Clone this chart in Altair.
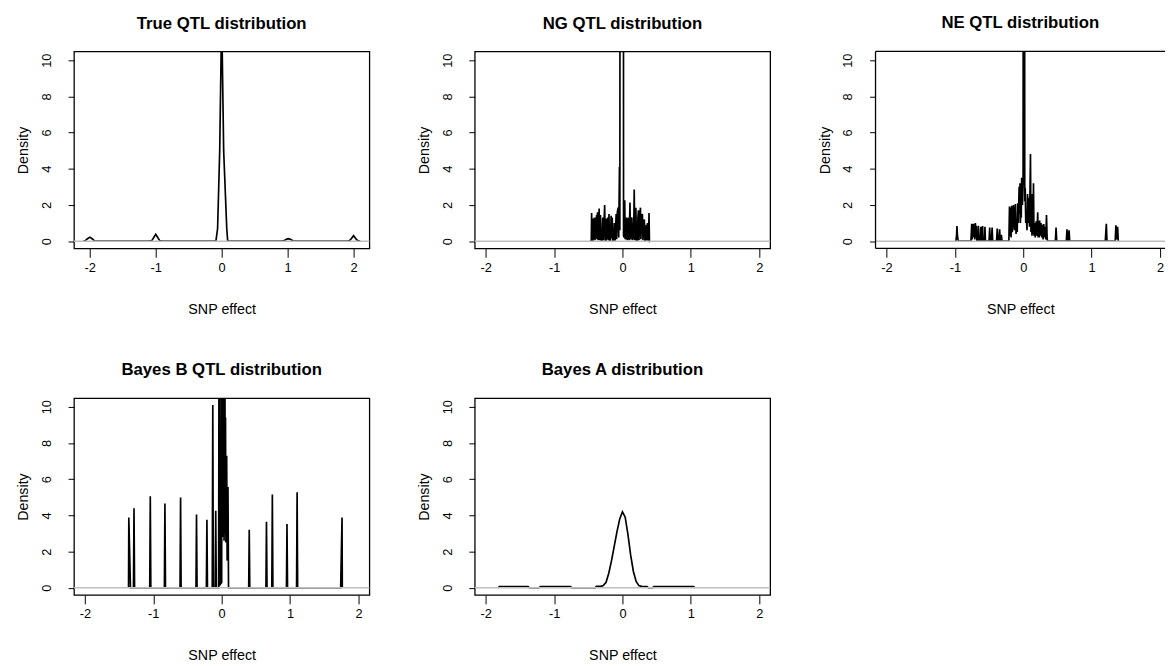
import altair as alt
import pandas as pd

# ---------------- data ----------------
true_x = [-2.1, -2.07, -2.04, -2.0, -1.96, -1.93, -1.9,
          -1.1, -1.06, -1.03, -1.0, -0.97, -0.94, -0.9,
          -0.1, -0.086, -0.062, -0.03, 0.0, 0.03, 0.077, 0.09, 0.1,
          0.9, 0.95, 0.98, 1.01, 1.04, 1.08, 1.12,
          1.9, 1.94, 1.97, 2.0, 2.03, 2.06, 2.1]
true_y = [0.0, 0.02, 0.12, 0.22, 0.12, 0.02, 0.0,
          0.0, 0.03, 0.2, 0.38, 0.2, 0.03, 0.0,
          0.0, 0.05, 0.7, 5.0, 12.5, 5.0, 0.7, 0.05, 0.0,
          0.0, 0.03, 0.1, 0.14, 0.1, 0.02, 0.0,
          0.0, 0.03, 0.16, 0.3, 0.16, 0.03, 0.0]

ng_x = [-0.47, -0.456, -0.451, -0.445, -0.43, -0.425, -0.418, -0.41, -0.402, -0.394,
        -0.386, -0.378, -0.372, -0.365, -0.355, -0.341, -0.333, -0.322, -0.31, -0.295,
        -0.288, -0.28, -0.26, -0.252, -0.24, -0.232, -0.226, -0.214, -0.205, -0.197,
        -0.19, -0.175, -0.166, -0.159, -0.15, -0.14, -0.125, -0.118, -0.108, -0.1,
        -0.092, -0.085, -0.075, -0.063, -0.055, -0.044, -0.038, -0.033, 0.012, 0.016,
        0.026, 0.033, 0.04, 0.05, 0.056, 0.062, 0.07, 0.078, 0.084, 0.09,
        0.098, 0.11, 0.118, 0.128, 0.138, 0.145, 0.155, 0.163, 0.172, 0.18,
        0.188, 0.196, 0.204, 0.218, 0.226, 0.234, 0.242, 0.25, 0.263, 0.27,
        0.28, 0.292, 0.3, 0.31, 0.32, 0.328, 0.34, 0.349, 0.356, 0.366,
        0.375, 0.382, 0.388, 0.395]
ng_y = [0.0, 0.05, 1.56, 0.05, 0.02, 1.25, 0.1, 1.3, 0.05, 1.3,
        0.15, 1.45, 0.1, 1.6, 0.05, 1.8, 0.05, 1.45, 0.02, 0.02,
        1.3, 0.05, 2.0, 0.02, 0.02, 1.25, 0.1, 1.3, 0.05, 1.5,
        0.02, 0.02, 1.4, 0.15, 1.3, 0.02, 0.02, 1.0, 0.02, 0.8,
        1.5, 0.1, 1.6, 1.85, 0.2, 4.1, 0.6, 40.0, 40.0, 0.3,
        0.2, 2.26, 0.1, 1.2, 0.1, 1.3, 0.05, 1.25, 0.1, 1.3,
        0.05, 2.13, 0.1, 1.2, 1.3, 0.05, 1.0, 0.1, 2.86, 0.05,
        1.2, 1.85, 0.02, 0.02, 1.3, 1.7, 0.05, 1.2, 1.85, 0.1,
        1.4, 1.5, 0.05, 1.0, 1.2, 0.02, 0.02, 0.9, 0.05, 1.0,
        0.05, 0.02, 1.55, 0.0]

ne_x = [-0.985, -0.975, -0.969, -0.962, -0.95,
        -0.765, -0.753, -0.747, -0.74, -0.733, -0.727, -0.721, -0.715, -0.708, -0.7, -0.692, -0.685, -0.678,
        -0.665, -0.655, -0.645, -0.625, -0.62, -0.612, -0.6, -0.594, -0.587, -0.565, -0.56, -0.553,
        -0.5, -0.49, -0.482, -0.465, -0.455, -0.447,
        -0.39, -0.38, -0.372, -0.355, -0.345, -0.338, -0.33, -0.32, -0.31,
        -0.21, -0.201, -0.193, -0.185, -0.178, -0.17, -0.16, -0.143, -0.13, -0.115, -0.105, -0.095,
        -0.088, -0.081, -0.072, -0.06, -0.053, -0.047, -0.041, -0.035, -0.029, -0.023, -0.012, -0.002,
        0.003, 0.018, 0.022, 0.029, 0.037, 0.045, 0.055, 0.063, 0.07, 0.08, 0.092, 0.106, 0.113,
        0.12, 0.128, 0.135, 0.142, 0.15, 0.157, 0.164, 0.175, 0.19, 0.2, 0.212, 0.218, 0.225,
        0.233, 0.24, 0.25, 0.26, 0.27, 0.28, 0.29, 0.3, 0.31, 0.32, 0.33, 0.34, 0.35, 0.36,
        0.47, 0.48, 0.49, 0.63, 0.64, 0.65, 0.66, 0.67, 0.68,
        1.2, 1.215, 1.225, 1.345, 1.355, 1.365, 1.38, 1.39]
ne_y = [0.0, 0.3, 0.83, 0.3, 0.0,
        0.0, 0.96, 0.1, 0.9, 0.2, 0.96, 0.3, 0.85, 0.1, 1.0, 0.2, 0.85, 0.0,
        0.0, 0.85, 0.0, 0.0, 0.8, 0.1, 0.0, 0.83, 0.0, 0.0, 0.8, 0.0,
        0.0, 0.75, 0.0, 0.0, 0.75, 0.0,
        0.0, 0.7, 0.0, 0.0, 0.65, 0.1, 0.0, 0.35, 0.0,
        0.0, 1.92, 0.3, 1.85, 0.2, 1.95, 0.5, 2.0, 0.6, 2.05, 0.4, 1.2,
        0.5, 2.1, 1.0, 3.0, 1.5, 3.2, 1.0, 2.4, 1.3, 3.5, 2.0, 3.3,
        40.0, 40.0, 2.2, 2.95, 1.0, 1.5, 0.6, 2.6, 1.0, 2.4, 0.8, 4.82, 0.5,
        1.2, 0.3, 2.6, 0.4, 3.2, 0.3, 1.0, 0.2, 1.1, 0.3, 1.6, 0.2, 0.8,
        0.2, 1.14, 0.3, 1.0, 0.2, 0.9, 0.1, 0.95, 0.2, 0.8, 0.1, 1.45, 0.1, 0.0,
        0.0, 0.75, 0.0, 0.0, 0.65, 0.0, 0.0, 0.6, 0.0,
        0.0, 0.96, 0.0, 0.0, 0.88, 0.1, 0.8, 0.0]

bb_x = [-1.362, -1.358, -1.334, -1.29, -1.282, -1.274, -1.052, -1.044, -1.036,
        -0.838, -0.83, -0.822, -0.609, -0.601, -0.593, -0.376, -0.368, -0.36,
        -0.224, -0.216, -0.208, -0.138, -0.13, -0.122, -0.095, -0.087, -0.079,
        -0.045, -0.032, -0.02, 0.0, 0.005, 0.015, 0.025, 0.035, 0.045, 0.05,
        0.056, 0.062, 0.073, 0.08, 0.092, 0.1,
        0.395, 0.403, 0.411, 0.647, 0.655, 0.663, 0.733, 0.741, 0.749,
        0.947, 0.955, 0.963, 1.095, 1.103, 1.111, 1.74, 1.76, 1.764]
bb_y = [0.0, 3.88, 0.0, 0.0, 4.39, 0.0, 0.0, 5.06, 0.0,
        0.0, 4.65, 0.0, 0.0, 4.99, 0.0, 0.0, 4.05, 0.0,
        0.0, 3.76, 0.0, 0.0, 10.1, 0.0, 0.0, 4.25, 0.0,
        0.0, 30.0, 0.2, 0.3, 30.0, 2.8, 30.0, 2.6, 30.0, 3.0,
        9.4, 2.5, 7.3, 1.5, 5.57, 0.0,
        0.0, 3.21, 0.0, 0.0, 3.65, 0.0, 0.0, 5.15, 0.0,
        0.0, 3.52, 0.0, 0.0, 5.28, 0.0, 0.0, 3.88, 0.0]

ba_x = [-1.82, -1.8, -1.38, -1.36, -1.22, -1.2, -0.76, -0.74, -0.4,
        -0.38, -0.32, -0.28, -0.24, -0.2, -0.16, -0.12, -0.08, -0.04, 0.0,
        0.04, 0.08, 0.12, 0.16, 0.2, 0.24, 0.28, 0.36, 0.38, 0.44, 0.46, 1.04, 1.06]
ba_y = [0.0, 0.07, 0.07, 0.0, 0.0, 0.07, 0.07, 0.0, 0.0,
        0.08, 0.08, 0.12, 0.3, 0.8, 1.5, 2.3, 3.1, 3.8, 4.2,
        3.9, 2.95, 1.8, 0.9, 0.35, 0.12, 0.08, 0.07, 0.0, 0.0, 0.07, 0.07, 0.0]

titles = ["True QTL distribution", "NG QTL distribution", "NE QTL distribution",
          "Bayes B QTL distribution", "Bayes A distribution"]
x_ticks = [-2, -1, 0, 1, 2]
y_ticks = [0, 2, 4, 6, 8, 10]

FONT = "Liberation Sans"
W, H = 300, 200


def panel(xs, ys, title, xdom, width=W, open_right=False):
    df = pd.DataFrame({"x": xs, "y": ys, "i": list(range(len(xs)))})
    xsc = alt.Scale(domain=xdom, nice=False, zero=False)
    ysc = alt.Scale(domain=[-0.4, 10.48], nice=False, zero=False)
    y_axis = alt.Axis(values=y_ticks, title="Density", tickSize=6,
                      labelAngle=270, labelAlign="center", labelBaseline="middle",
                      labelPadding=22, titlePadding=10, labelOverlap=False,
                      labelFlush=False, labelExpr="'' + datum.value")
    line = alt.Chart(df).mark_line(clip=True, color="black", strokeWidth=1.7).encode(
        x=alt.X("x:Q", scale=xsc,
                axis=alt.Axis(values=x_ticks, title="SNP effect", tickSize=9,
                              labelPadding=4, titlePadding=29, labelOverlap=False,
                              labelFlush=False, labelExpr="'' + datum.value")),
        y=alt.Y("y:Q", scale=ysc, axis=y_axis),
        order="i:Q",
    )
    zero = alt.Chart(pd.DataFrame({"y": [0]})).mark_rule(
        color="#bebebe", strokeWidth=1.5).encode(
        y=alt.Y("y:Q", scale=ysc, axis=y_axis))
    layers = [line, zero]
    props = dict(width=width, height=H,
                 title=alt.TitleParams(title, frame="group", anchor="middle", offset=19))
    if open_right:
        one = pd.DataFrame({"a": [0]})
        edge = dict(color="black", strokeWidth=1.3)
        top = alt.Chart(one).mark_rule(**edge).encode(
            x=alt.value(0), x2=alt.value(width), y=alt.value(0))
        bottom = alt.Chart(one).mark_rule(**edge).encode(
            x=alt.value(0), x2=alt.value(width), y=alt.value(H))
        left = alt.Chart(one).mark_rule(**edge).encode(
            x=alt.value(0), y=alt.value(0), y2=alt.value(H))
        layers += [top, bottom, left]
        props["view"] = alt.ViewBackground(stroke="transparent")
    return alt.layer(*layers).properties(**props)


W3 = 294
p1 = panel(true_x, true_y, titles[0], [-2.24, 2.24])
p2 = panel(ng_x, ng_y, titles[1], [-2.16, 2.16])
p3 = panel(ne_x, ne_y, titles[2], [-2.16, -2.16 + 4.32 * W3 / W], width=W3, open_right=True)
p4 = panel(bb_x, bb_y, titles[3], [-2.16, 2.16])
p5 = panel(ba_x, ba_y, titles[4], [-2.16, 2.16])

row1 = alt.hconcat(p1, p2, p3, spacing=45)
row2 = alt.hconcat(p4, p5, spacing=45)

chart = alt.vconcat(row1, row2, spacing=44).properties(
    padding={"left": 7, "top": 0, "right": 0, "bottom": 0}
).configure_view(
    stroke="black", strokeWidth=1.3
).configure_axis(
    grid=False, domain=False, tickColor="black", tickWidth=1,
    labelColor="black", titleColor="black",
    labelFont=FONT, titleFont=FONT, labelFontSize=13, titleFontSize=14.5,
    titleFontWeight="normal",
).configure_title(
    font=FONT, fontSize=17, fontWeight="bold", color="black"
)

chart.save("out.html", embed_options={"renderer": "svg", "actions": False})
